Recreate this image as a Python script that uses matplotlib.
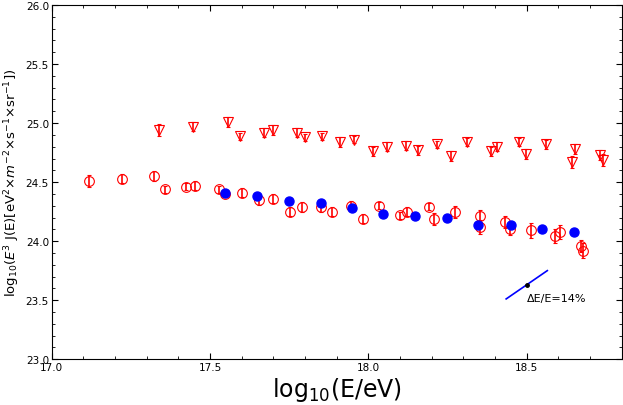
import matplotlib
matplotlib.use("Agg")
import matplotlib.pyplot as plt
from matplotlib.ticker import MultipleLocator

circ_x = [17.118,17.222,17.323,17.358,17.424,17.453,17.529,17.548,17.601,17.653,17.699,17.754,17.789,17.849,17.885,17.945,17.983,18.033,18.099,18.122,18.19,18.208,18.272,18.352,18.351,18.43,18.446,18.513,18.59,18.606,18.672,18.679]
circ_y = [24.51,24.53,24.55,24.44,24.46,24.47,24.44,24.40,24.41,24.35,24.36,24.25,24.29,24.29,24.25,24.30,24.19,24.30,24.22,24.25,24.29,24.19,24.25,24.21,24.12,24.16,24.10,24.09,24.04,24.08,23.96,23.92]
circ_err = [0.05,0.04,0.04,0.03,0.03,0.04,0.03,0.03,0.04,0.04,0.04,0.04,0.04,0.04,0.04,0.04,0.04,0.03,0.03,0.04,0.03,0.05,0.05,0.05,0.06,0.05,0.05,0.06,0.06,0.06,0.05,0.06]
blue_x = [17.546,17.648,17.75,17.849,17.948,18.047,18.148,18.247,18.347,18.451,18.549,18.648]
blue_y = [24.41,24.38,24.34,24.32,24.28,24.23,24.21,24.20,24.14,24.14,24.10,24.08]
tri_x = [17.34,17.446,17.558,17.593,17.669,17.699,17.776,17.801,17.854,17.909,17.955,18.015,18.059,18.118,18.157,18.216,18.26,18.312,18.386,18.405,18.474,18.498,18.562,18.644,18.653,18.732,18.742]
tri_y = [24.94,24.97,25.01,24.89,24.92,24.94,24.92,24.88,24.89,24.84,24.86,24.76,24.80,24.81,24.77,24.82,24.72,24.84,24.76,24.80,24.84,24.74,24.82,24.67,24.78,24.73,24.69]
tri_err = [0.05,0.04,0.04,0.03,0.04,0.04,0.04,0.03,0.03,0.04,0.03,0.04,0.04,0.04,0.04,0.03,0.04,0.03,0.04,0.04,0.03,0.04,0.04,0.05,0.04,0.04,0.05]
res_x = [18.435, 18.565]
res_y = [23.51, 23.75]
res_pt = (18.5, 23.63)

fig = plt.figure(figsize=(6.23, 4.06), dpi=100)
ax = fig.add_axes([0.083, 0.113, 0.915, 0.872])
ax.errorbar(circ_x, circ_y, yerr=circ_err, fmt='o', mfc='none', mec='red', ecolor='red',
            ms=7, mew=0.8, elinewidth=1.2, capsize=1.5, zorder=2)
ax.errorbar(tri_x, tri_y, yerr=tri_err, fmt='v', mfc='none', mec='red', ecolor='red',
            ms=7, mew=0.8, elinewidth=1.2, capsize=1.5, zorder=2)
ax.plot(blue_x, blue_y, 'o', color='blue', ms=6.5, zorder=3)
ax.plot(res_x, res_y, color='blue', lw=1.2)
ax.plot([res_pt[0]], [res_pt[1]], 'o', color='black', ms=2.5)
ax.text(18.5, 23.515, 'ΔE/E=14%', fontsize=8, va='center', ha='left')

ax.set_xlim(17.0, 18.8)
ax.set_ylim(23.0, 26.0)
ax.xaxis.set_major_locator(MultipleLocator(0.5))
ax.xaxis.set_minor_locator(MultipleLocator(0.1))
ax.yaxis.set_major_locator(MultipleLocator(0.5))
ax.yaxis.set_minor_locator(MultipleLocator(0.1))
ax.xaxis.set_major_formatter(matplotlib.ticker.FormatStrFormatter('%.1f'))
ax.yaxis.set_major_formatter(matplotlib.ticker.FormatStrFormatter('%.1f'))
ax.tick_params(which='both', direction='in', top=True, right=True, labelsize=7.5, pad=2)
ax.tick_params(which='major', length=4)
ax.tick_params(which='minor', length=2)
ax.set_xlabel(r'log$_{10}$(E/eV)', fontsize=17, labelpad=2)
ax.set_ylabel(r'log$_{10}$($E^3$ J(E)[eV$^2$×$m^{-2}$×s$^{-1}$×sr$^{-1}$])', fontsize=9.5, labelpad=3)
fig.savefig('out.png', dpi=100)
